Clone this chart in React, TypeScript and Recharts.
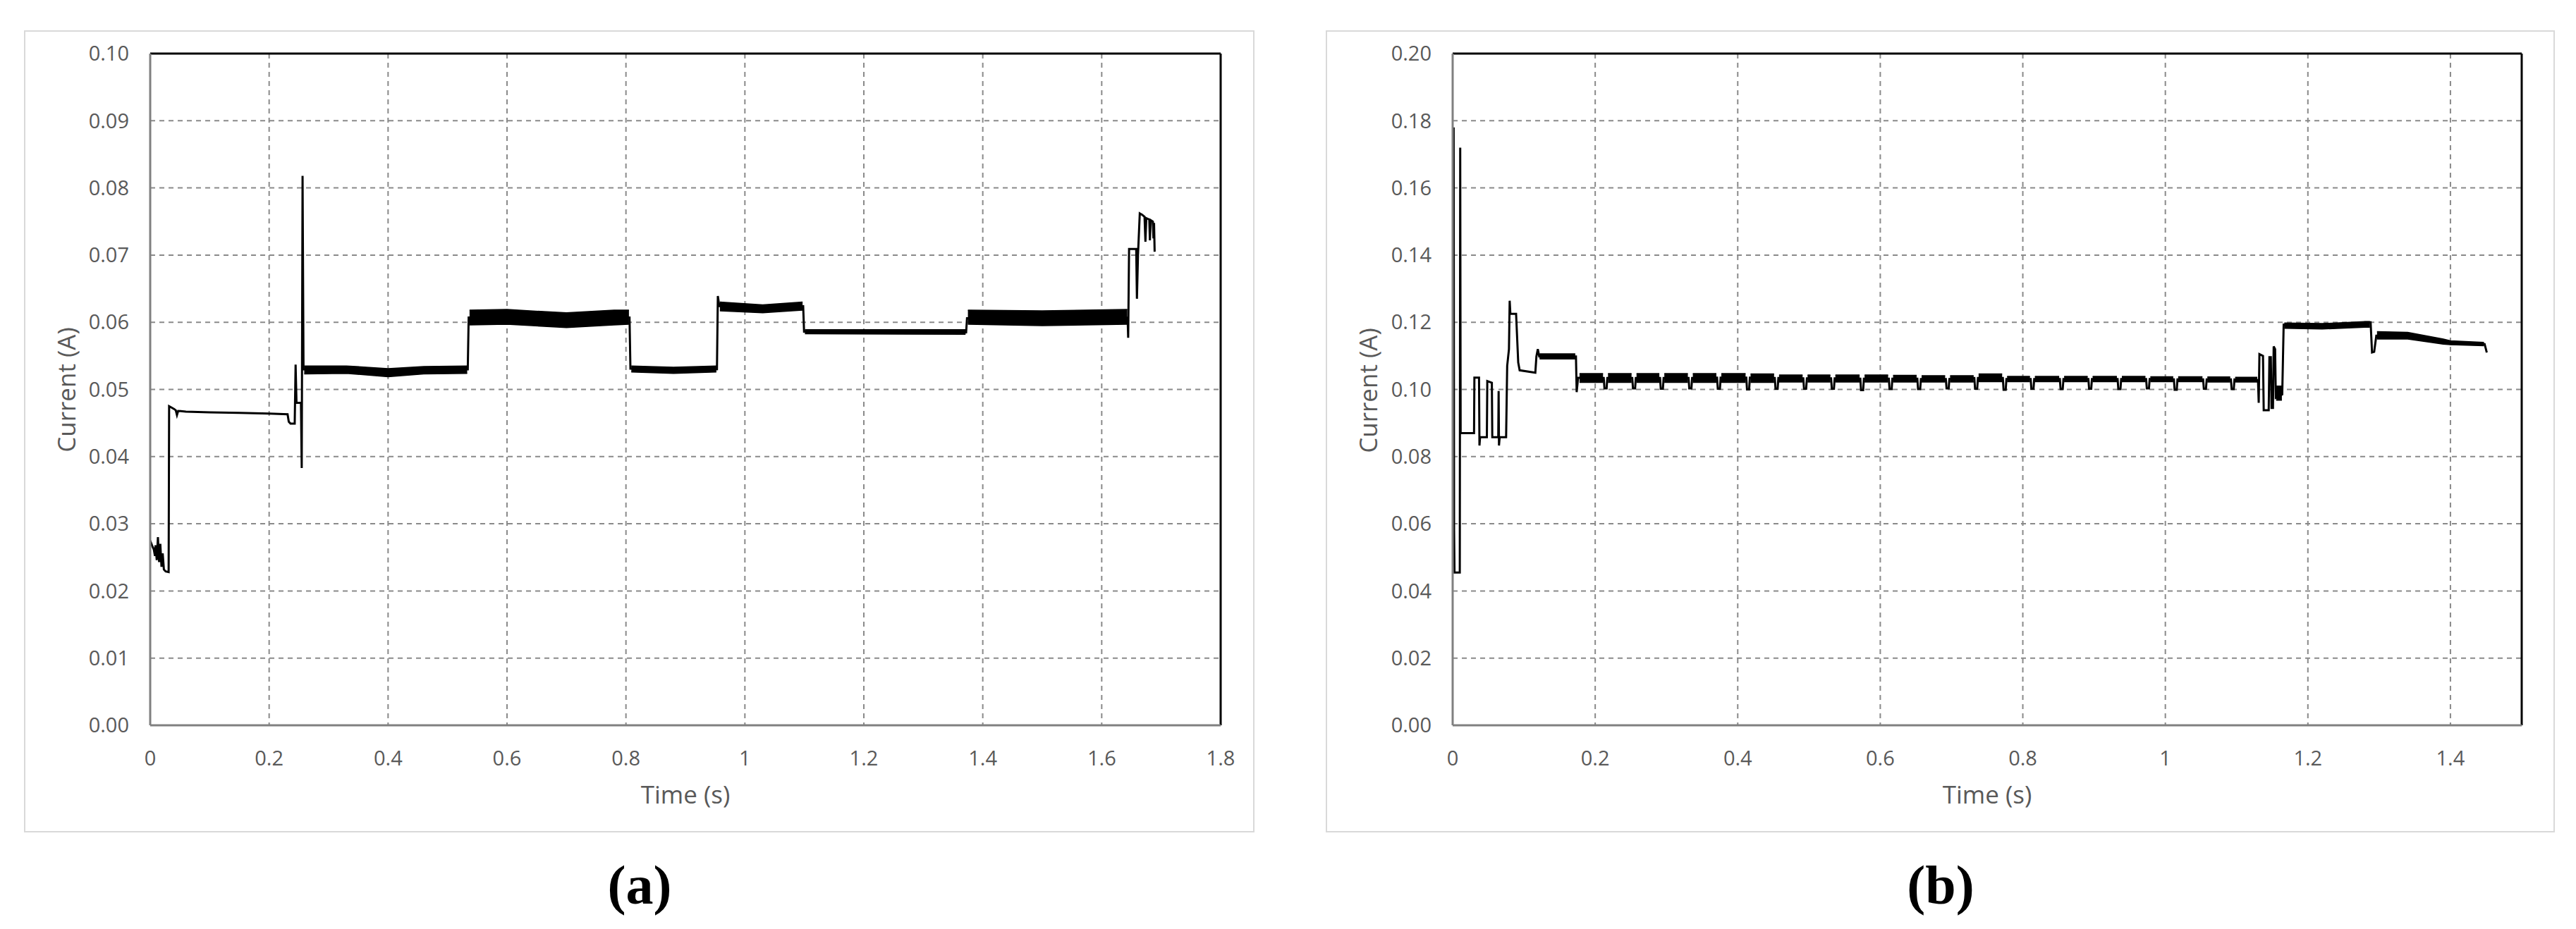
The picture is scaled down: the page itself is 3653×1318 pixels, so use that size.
import React from 'react';
import { ComposedChart, Line, Area, XAxis, YAxis, CartesianGrid, ReferenceLine } from 'recharts';

// ---------- axis ticks ----------
const timeTicksA = [0, 0.2, 0.4, 0.6, 0.8, 1, 1.2, 1.4, 1.6, 1.8];
const currentTicksA = [0, 0.01, 0.02, 0.03, 0.04, 0.05, 0.06, 0.07, 0.08, 0.09, 0.1];
const timeTicksB = [0, 0.2, 0.4, 0.6, 0.8, 1, 1.2, 1.4];
const currentTicksB = [0, 0.02, 0.04, 0.06, 0.08, 0.1, 0.12, 0.14, 0.16, 0.18, 0.2];

// ---------- panel (a): current trace [time s, current A] ----------
const traceA: [number, number][] = [
  [0.000, 0.0275], [0.003, 0.0268], [0.006, 0.0262], [0.008, 0.0252], [0.009, 0.0268],
  [0.011, 0.0246], [0.013, 0.0280], [0.015, 0.0243], [0.017, 0.0270], [0.019, 0.0236],
  [0.021, 0.0256], [0.023, 0.0232], [0.026, 0.0229], [0.031, 0.0228], [0.0318, 0.0475],
  [0.036, 0.0473], [0.040, 0.0471], [0.043, 0.0469], [0.045, 0.0462], [0.047, 0.0468],
  [0.060, 0.0467], [0.100, 0.0466], [0.150, 0.0465], [0.200, 0.0464], [0.231, 0.0463],
  [0.233, 0.0452], [0.236, 0.0449], [0.243, 0.0449], [0.2445, 0.0537], [0.246, 0.0480],
  [0.2535, 0.0480], [0.2548, 0.0383], [0.2562, 0.0818], [0.2578, 0.0530], [0.300, 0.0529],
  [0.350, 0.0531], [0.400, 0.0525], [0.450, 0.0528], [0.500, 0.0530], [0.534, 0.0530],
  [0.5355, 0.0607], [0.600, 0.0608], [0.650, 0.0605], [0.700, 0.0603], [0.750, 0.0607],
  [0.806, 0.0607], [0.8075, 0.0531], [0.850, 0.0531], [0.900, 0.0528], [0.953, 0.0530],
  [0.9545, 0.0639], [0.957, 0.0624], [1.000, 0.0624], [1.050, 0.0620], [1.098, 0.0624],
  [1.0995, 0.0586], [1.200, 0.0586], [1.250, 0.0584], [1.372, 0.0585], [1.3735, 0.0606],
  [1.450, 0.0607], [1.550, 0.0606], [1.6435, 0.0607], [1.6445, 0.0577], [1.646, 0.0709],
  [1.658, 0.0709], [1.6592, 0.0635], [1.661, 0.0700], [1.664, 0.0762], [1.668, 0.0760],
  [1.672, 0.0757], [1.6735, 0.0720], [1.675, 0.0755], [1.680, 0.0753], [1.681, 0.0722],
  [1.6825, 0.0752], [1.686, 0.0750], [1.687, 0.0725], [1.688, 0.0748], [1.689, 0.0705],
];

// noise envelope of panel (a): [time, low, high]
const bandA: [number, number | null, number | null][] = [
  [0.259, 0.0523, 0.0535], [0.330, 0.0524, 0.0535], [0.400, 0.0519, 0.0531], [0.460, 0.0523, 0.0534], [0.533, 0.0524, 0.0535],
  [0.535, null, null],
  [0.537, 0.0596, 0.0618], [0.600, 0.0597, 0.0619], [0.700, 0.0592, 0.0614], [0.780, 0.0596, 0.0618], [0.805, 0.0597, 0.0618],
  [0.807, null, null],
  [0.809, 0.0526, 0.0535], [0.880, 0.0524, 0.0533], [0.952, 0.0526, 0.0535],
  [0.955, null, null],
  [0.958, 0.0617, 0.0630], [1.030, 0.0614, 0.0626], [1.097, 0.0618, 0.0630],
  [1.099, null, null],
  [1.101, 0.0583, 0.0589], [1.371, 0.0582, 0.0589],
  [1.373, null, null],
  [1.375, 0.0597, 0.0618], [1.500, 0.0595, 0.0617], [1.643, 0.0597, 0.0619],
];

// ---------- panel (b): current trace ----------
const traceB: [number, number][] = [
  [0.0008, 0.066], [0.0014, 0.178], [0.0020, 0.058], [0.0026, 0.0455], [0.0100, 0.0455],
  [0.0106, 0.172], [0.0112, 0.0870], [0.0300, 0.0870], [0.0305, 0.1035], [0.0370, 0.1035],
  [0.0376, 0.0833], [0.0385, 0.0858], [0.0480, 0.0858], [0.0486, 0.1025], [0.0550, 0.1020],
  [0.0556, 0.0858], [0.0640, 0.0858], [0.0645, 0.0995], [0.0650, 0.0833], [0.0660, 0.0858],
  [0.0750, 0.0858], [0.0765, 0.1070], [0.0790, 0.1120], [0.0800, 0.1264], [0.0810, 0.1225],
  [0.0890, 0.1225], [0.0920, 0.1080], [0.0940, 0.1057], [0.1160, 0.1050], [0.1175, 0.1098],
  [0.1195, 0.1120], [0.1215, 0.1098], [0.1730, 0.1098], [0.1740, 0.0992], [0.1760, 0.1035],
  [0.212, 0.1034], [0.213, 0.1003], [0.216, 0.1003], [0.217, 0.1034],
  [0.252, 0.1034], [0.253, 0.1003], [0.256, 0.1003], [0.257, 0.1034],
  [0.291, 0.1034], [0.292, 0.1002], [0.295, 0.1002], [0.296, 0.1034],
  [0.331, 0.1034], [0.332, 0.1003], [0.335, 0.1003], [0.336, 0.1034],
  [0.371, 0.1035], [0.372, 0.1002], [0.375, 0.1002], [0.376, 0.1035],
  [0.412, 0.1035], [0.413, 0.1000], [0.416, 0.1000], [0.417, 0.1035],
  [0.452, 0.1034], [0.453, 0.1002], [0.456, 0.1002], [0.457, 0.1034],
  [0.492, 0.1033], [0.493, 0.1002], [0.496, 0.1002], [0.497, 0.1033],
  [0.531, 0.1033], [0.532, 0.1002], [0.535, 0.1002], [0.536, 0.1033],
  [0.572, 0.1032], [0.573, 0.0998], [0.576, 0.0998], [0.577, 0.1032],
  [0.612, 0.1032], [0.613, 0.1001], [0.616, 0.1001], [0.617, 0.1032],
  [0.652, 0.1032], [0.653, 0.1001], [0.656, 0.1001], [0.657, 0.1031],
  [0.692, 0.1031], [0.693, 0.1003], [0.696, 0.1003], [0.697, 0.1031],
  [0.732, 0.1034], [0.733, 0.1002], [0.736, 0.1002], [0.737, 0.1034],
  [0.772, 0.1034], [0.773, 0.0999], [0.776, 0.0999], [0.777, 0.1031],
  [0.811, 0.1031], [0.812, 0.1002], [0.815, 0.1002], [0.816, 0.1031],
  [0.852, 0.1031], [0.853, 0.1001], [0.856, 0.1001], [0.857, 0.1031],
  [0.892, 0.1031], [0.893, 0.1002], [0.896, 0.1002], [0.897, 0.1031],
  [0.933, 0.1031], [0.934, 0.1001], [0.937, 0.1001], [0.938, 0.1031],
  [0.973, 0.1031], [0.974, 0.1003], [0.977, 0.1003], [0.978, 0.1031],
  [1.012, 0.1030], [1.013, 0.0999], [1.016, 0.0999], [1.017, 0.1030],
  [1.053, 0.1030], [1.054, 0.1002], [1.057, 0.1002], [1.058, 0.1030],
  [1.092, 0.1030], [1.093, 0.1001], [1.096, 0.1001], [1.097, 0.1030],
  [1.130, 0.1028], [1.131, 0.0960], [1.132, 0.1105], [1.137, 0.1100], [1.138, 0.0938],
  [1.145, 0.0938], [1.146, 0.1096], [1.148, 0.1096], [1.149, 0.0945], [1.151, 0.0945],
  [1.152, 0.1128], [1.154, 0.1120], [1.155, 0.0975], [1.164, 0.0985], [1.166, 0.1193],
  [1.200, 0.1188], [1.250, 0.1190], [1.280, 0.1200], [1.288, 0.1200], [1.290, 0.1110],
  [1.293, 0.1112], [1.296, 0.1160], [1.330, 0.1160], [1.360, 0.1155], [1.400, 0.1137],
  [1.420, 0.1135], [1.448, 0.1135], [1.451, 0.1110],
];

// noise envelope of panel (b): [time, low, high]
const bandB: [number, number | null, number | null][] = [
  [0.122, 0.1091, 0.1106], [0.172, 0.1091, 0.1106], [0.1735, null, null],
  [0.178, 0.1021, 0.1047], [0.211, 0.1021, 0.1047], [0.2125, null, null],
  [0.218, 0.1021, 0.1047], [0.251, 0.1021, 0.1047], [0.2525, null, null],
  [0.258, 0.1021, 0.1047], [0.290, 0.1021, 0.1047], [0.2915, null, null],
  [0.297, 0.1021, 0.1047], [0.330, 0.1021, 0.1047], [0.3315, null, null],
  [0.337, 0.1021, 0.1047], [0.370, 0.1021, 0.1047], [0.3715, null, null],
  [0.377, 0.1021, 0.1047], [0.411, 0.1021, 0.1047], [0.4125, null, null],
  [0.418, 0.1021, 0.1046], [0.451, 0.1021, 0.1046], [0.4525, null, null],
  [0.458, 0.1022, 0.1043], [0.491, 0.1022, 0.1043], [0.4925, null, null],
  [0.498, 0.1022, 0.1043], [0.530, 0.1022, 0.1043], [0.5315, null, null],
  [0.537, 0.1022, 0.1043], [0.571, 0.1022, 0.1043], [0.5725, null, null],
  [0.578, 0.1022, 0.1043], [0.611, 0.1022, 0.1043], [0.6125, null, null],
  [0.618, 0.1022, 0.1042], [0.651, 0.1022, 0.1042], [0.6525, null, null],
  [0.658, 0.1022, 0.1041], [0.691, 0.1022, 0.1041], [0.6925, null, null],
  [0.698, 0.1022, 0.1041], [0.731, 0.1022, 0.1041], [0.7325, null, null],
  [0.738, 0.1023, 0.1046], [0.771, 0.1023, 0.1046], [0.7725, null, null],
  [0.778, 0.1023, 0.1039], [0.810, 0.1023, 0.1039], [0.8115, null, null],
  [0.817, 0.1023, 0.1039], [0.851, 0.1023, 0.1039], [0.8525, null, null],
  [0.858, 0.1023, 0.1039], [0.891, 0.1023, 0.1039], [0.8925, null, null],
  [0.898, 0.1023, 0.1039], [0.932, 0.1023, 0.1039], [0.9335, null, null],
  [0.939, 0.1023, 0.1039], [0.972, 0.1023, 0.1039], [0.9735, null, null],
  [0.979, 0.1023, 0.1038], [1.011, 0.1023, 0.1038], [1.0125, null, null],
  [1.018, 0.1023, 0.1038], [1.052, 0.1023, 0.1038], [1.0535, null, null],
  [1.059, 0.1022, 0.1037], [1.091, 0.1022, 0.1037], [1.0925, null, null],
  [1.098, 0.1022, 0.1036], [1.129, 0.1022, 0.1036], [1.1305, null, null],
  [1.1555, 0.0968, 0.1010], [1.1635, 0.0968, 0.1010], [1.165, null, null],
  [1.167, 0.1182, 0.1198], [1.220, 0.1180, 0.1196], [1.280, 0.1185, 0.1202], [1.287, 0.1185, 0.1202], [1.291, null, null],
  [1.297, 0.1150, 0.1172], [1.340, 0.1150, 0.1170], [1.390, 0.1135, 0.1150], [1.400, 0.1133, 0.1145], [1.447, 0.1130, 0.1140],
];

// ---------- styling ----------
const GRAY_TEXT = '#595959';
const TICK_FONT = { fill: GRAY_TEXT, fontSize: 29, fontFamily: '"Open Sans", sans-serif' };

type PanelProps = {
  left: number; top: number; width: number; height: number;
  plotLeft: number; plotRight: number;
  xMax: number; xTicks: number[]; yMax: number; yTicks: number[];
  trace: [number, number][]; band: [number, number | null, number | null][];
};

const Panel = (p: PanelProps) => {
  const lineData = p.trace.map(([t, v]) => ({ t, v }));
  const bandData = p.band.map(([t, lo, hi]) => ({ t, r: lo == null || hi == null ? null : [lo, hi] }));
  return (
    <div style={{ position: 'absolute', left: p.left, top: p.top, width: p.width, height: p.height }}>
      <div style={{ position: 'absolute', left: 0, top: 0, width: p.width, height: p.height, boxSizing: 'border-box', border: '2px solid #d9d9d9' }} />
      <div style={{ position: 'absolute', left: 0, top: 0 }}>
        <ComposedChart width={p.width} height={p.height} margin={{ top: 33, right: p.plotRight, left: 0, bottom: 0 }}>
          <CartesianGrid stroke="#8a8a8a" strokeWidth={2} strokeDasharray="7 6" />
          <XAxis
            type="number" dataKey="t" domain={[0, p.xMax]} ticks={p.xTicks} interval={0}
            allowDataOverflow height={152}
            tickFormatter={(v: number) => String(v)}
            tick={TICK_FONT} tickLine={false} tickSize={0} tickMargin={36}
            axisLine={{ stroke: '#808080', strokeWidth: 3 }}
          />
          <YAxis
            type="number" domain={[0, p.yMax]} ticks={p.yTicks} interval={0}
            allowDataOverflow width={p.plotLeft}
            tickFormatter={(v: number) => v.toFixed(2)}
            tick={TICK_FONT} tickLine={false} tickSize={0} tickMargin={30}
            axisLine={{ stroke: '#808080', strokeWidth: 3 }}
          />
          <Area
            data={bandData} dataKey="r" type="linear" stroke="#000" strokeWidth={1.5}
            fill="#000" fillOpacity={1} connectNulls={false} isAnimationActive={false} dot={false} activeDot={false}
          />
          <Line
            data={lineData} dataKey="v" type="linear" stroke="#000" strokeWidth={3}
            dot={false} activeDot={false} isAnimationActive={false}
          />
          <ReferenceLine y={p.yMax} stroke="#000" strokeWidth={3} />
          <ReferenceLine x={p.xMax} stroke="#000" strokeWidth={3} />
        </ComposedChart>
      </div>
    </div>
  );
};

const titleStyle: React.CSSProperties = {
  position: 'absolute', color: GRAY_TEXT, fontFamily: '"Open Sans", sans-serif', fontSize: 35,
  lineHeight: 1, whiteSpace: 'nowrap',
};
const panelLabelStyle: React.CSSProperties = {
  position: 'absolute', color: '#000', fontFamily: '"Liberation Serif", "Times New Roman", serif',
  fontWeight: 'bold', fontSize: 78, lineHeight: 1, whiteSpace: 'nowrap', transform: 'translate(-50%, -50%)',
};

export default function App() {
  return (
    <div style={{ position: 'absolute', left: 0, top: 0, width: 3653, height: 1318, background: '#fff', overflow: 'hidden' }}>
      <Panel left={34} top={43} width={1745} height={1138} plotLeft={179} plotRight={48}
        xMax={1.8} xTicks={timeTicksA} yMax={0.1} yTicks={currentTicksA} trace={traceA} band={bandA} />
      <Panel left={1880} top={43} width={1743} height={1138} plotLeft={180} plotRight={47}
        xMax={1.5} xTicks={timeTicksB} yMax={0.2} yTicks={currentTicksB} trace={traceB} band={bandB} />

      <div style={{ ...titleStyle, left: 93, top: 553, transform: 'translate(-50%, -50%) rotate(-90deg)' }}>Current (A)</div>
      <div style={{ ...titleStyle, left: 1939, top: 554, transform: 'translate(-50%, -50%) rotate(-90deg)' }}>Current (A)</div>
      <div style={{ ...titleStyle, left: 972, top: 1126, transform: 'translate(-50%, -50%)' }}>Time (s)</div>
      <div style={{ ...titleStyle, left: 2818, top: 1126, transform: 'translate(-50%, -50%)' }}>Time (s)</div>

      <div style={{ ...panelLabelStyle, left: 907, top: 1256 }}>(a)</div>
      <div style={{ ...panelLabelStyle, left: 2752, top: 1256 }}>(b)</div>
    </div>
  );
}
